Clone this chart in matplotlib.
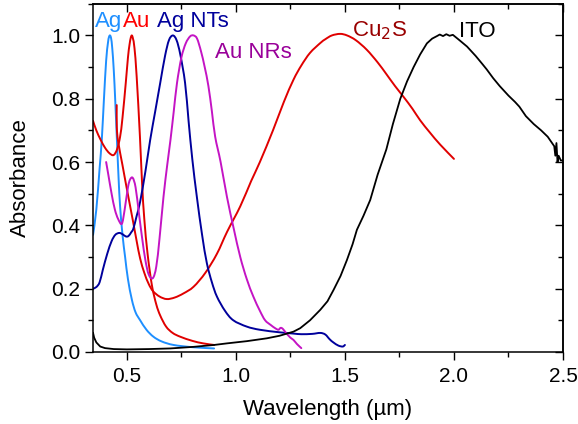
import numpy as np
import matplotlib
matplotlib.use("Agg")
import matplotlib.pyplot as plt
from matplotlib.path import Path
from matplotlib.patches import PathPatch
from matplotlib.ticker import MultipleLocator, FormatStrFormatter

plt.rcParams['font.family'] = ['Liberation Sans', 'DejaVu Sans']

# Extinction spectra (wavelength in µm, normalised absorbance)
ag_wl = [0.345, 0.36, 0.375, 0.385, 0.395, 0.405, 0.413, 0.418, 0.423, 0.428, 0.433,
         0.44, 0.447, 0.455, 0.462, 0.469, 0.48, 0.492, 0.505, 0.523, 0.54, 0.561,
         0.59, 0.622, 0.66, 0.714, 0.80, 0.90]
ag_abs = [0.37, 0.45, 0.58, 0.67, 0.80, 0.92, 0.975, 0.995, 1.0, 0.99, 0.96,
          0.89, 0.79, 0.66, 0.55, 0.46, 0.37, 0.30, 0.23, 0.165, 0.125, 0.10,
          0.07, 0.048, 0.033, 0.022, 0.015, 0.011]

au_wl = [0.345, 0.36, 0.38, 0.40, 0.42, 0.439, 0.455, 0.469, 0.48, 0.495, 0.505,
         0.512, 0.518, 0.523, 0.528, 0.535, 0.545, 0.56, 0.57, 0.58, 0.595, 0.615,
         0.635, 0.653, 0.68, 0.71, 0.745, 0.80, 0.85, 0.90]
au_abs = [0.73, 0.70, 0.67, 0.645, 0.628, 0.622, 0.64, 0.68, 0.74, 0.85, 0.93,
          0.97, 0.993, 1.0, 0.99, 0.96, 0.87, 0.68, 0.53, 0.42, 0.31, 0.21,
          0.15, 0.115, 0.08, 0.06, 0.048, 0.035, 0.027, 0.022]

agnt_wl = [0.345, 0.36, 0.375, 0.39, 0.41, 0.43, 0.447, 0.465, 0.48, 0.495, 0.507,
           0.52, 0.53, 0.545, 0.561, 0.585, 0.607, 0.63, 0.653, 0.675, 0.693, 0.711,
           0.728, 0.745, 0.767, 0.783, 0.80, 0.821, 0.845, 0.867, 0.89, 0.913,
           0.95, 0.988, 1.05, 1.11, 1.20, 1.264, 1.30, 1.35, 1.387, 1.41, 1.43,
           1.447, 1.47, 1.49, 1.50]
agnt_abs = [0.20, 0.205, 0.22, 0.26, 0.31, 0.35, 0.37, 0.376, 0.372, 0.365, 0.366,
            0.378, 0.39, 0.43, 0.475, 0.57, 0.67, 0.76, 0.85, 0.935, 0.985, 1.0,
            0.985, 0.94, 0.85, 0.73, 0.61, 0.49, 0.37, 0.28, 0.22, 0.175,
            0.13, 0.10, 0.08, 0.07, 0.062, 0.058, 0.056, 0.057, 0.06, 0.055, 0.04,
            0.03, 0.02, 0.017, 0.022]

aunr_wl = [0.405, 0.415, 0.43, 0.445, 0.46, 0.477, 0.49, 0.505, 0.515, 0.527, 0.54,
           0.555, 0.57, 0.585, 0.60, 0.619, 0.635, 0.65, 0.668, 0.685, 0.70, 0.715,
           0.73, 0.75, 0.77, 0.79, 0.806, 0.822, 0.84, 0.857, 0.874, 0.89, 0.905,
           0.93, 0.959, 0.99, 1.02, 1.05, 1.08, 1.11, 1.134, 1.16, 1.18, 1.195,
           1.205, 1.215, 1.23, 1.25, 1.264, 1.28, 1.30]
aunr_abs = [0.60, 0.56, 0.50, 0.45, 0.42, 0.405, 0.45, 0.52, 0.545, 0.55, 0.52,
            0.44, 0.36, 0.29, 0.245, 0.233, 0.27, 0.36, 0.49, 0.59, 0.67, 0.76,
            0.85, 0.93, 0.975, 0.997, 1.0, 0.99, 0.95, 0.90, 0.84, 0.76, 0.68,
            0.60, 0.49, 0.39, 0.30, 0.23, 0.175, 0.13, 0.10, 0.085, 0.075, 0.07,
            0.076, 0.073, 0.06, 0.045, 0.038, 0.025, 0.012]

cu2s_wl = [0.4535, 0.454, 0.46, 0.48, 0.50, 0.529, 0.545, 0.561, 0.58, 0.60, 0.62,
           0.65, 0.683, 0.72, 0.76, 0.806, 0.86, 0.913, 0.96, 1.02, 1.07, 1.11,
           1.17, 1.22, 1.264, 1.30, 1.34, 1.387, 1.41, 1.44, 1.478, 1.51, 1.55,
           1.60, 1.65, 1.69, 1.73, 1.77, 1.81, 1.845, 1.89, 1.937, 2.0]
cu2s_abs = [0.78, 0.71, 0.665, 0.59, 0.515, 0.41, 0.35, 0.295, 0.25, 0.215, 0.192,
            0.175, 0.167, 0.172, 0.185, 0.206, 0.25, 0.31, 0.38, 0.46, 0.54, 0.60,
            0.70, 0.79, 0.86, 0.905, 0.945, 0.976, 0.988, 1.0, 1.005, 1.0, 0.985,
            0.955, 0.915, 0.878, 0.84, 0.805, 0.768, 0.732, 0.693, 0.655, 0.61]

ito_wl = [0.345, 0.35, 0.36, 0.378, 0.40, 0.44, 0.50, 0.60, 0.70, 0.806, 0.90,
          0.959, 1.05, 1.142, 1.20, 1.264, 1.295, 1.34, 1.387, 1.42, 1.448, 1.48,
          1.509, 1.535, 1.555, 1.585, 1.616, 1.65, 1.69, 1.72, 1.754, 1.785, 1.815,
          1.845, 1.876, 1.90, 1.922, 1.935, 1.95, 1.965, 1.98, 1.995, 2.02,
          2.06, 2.10, 2.13, 2.15, 2.18, 2.21, 2.25, 2.28, 2.30, 2.33, 2.366, 2.40,
          2.43, 2.46, 2.465, 2.47, 2.475, 2.48, 2.49, 2.50]
ito_abs = [0.06, 0.045, 0.03, 0.017, 0.012, 0.009, 0.008, 0.009, 0.011, 0.016, 0.022,
           0.027, 0.034, 0.043, 0.051, 0.064, 0.075, 0.10, 0.133, 0.16, 0.196, 0.24,
           0.29, 0.34, 0.386, 0.43, 0.48, 0.56, 0.64, 0.72, 0.80, 0.855, 0.90,
           0.94, 0.975, 0.99, 0.998, 1.003, 0.998, 1.004, 0.999, 1.002, 0.988,
           0.965, 0.935, 0.91, 0.893, 0.865, 0.84, 0.81, 0.79, 0.775, 0.745, 0.72, 0.70,
           0.68, 0.65, 0.62, 0.66, 0.60, 0.62, 0.605, 0.605]

series = [
    (ag_wl, ag_abs, '#1E8FFF', True),
    (au_wl, au_abs, '#E00000', True),
    (cu2s_wl, cu2s_abs, '#E00000', True),
    (agnt_wl, agnt_abs, '#00009C', True),
    (aunr_wl, aunr_abs, '#C414C4', True),
    (ito_wl, ito_abs, '#000000', False),
]

labels = [
    ('Ag', 0.355, 1.027, '#1E8FFF'),
    ('Au', 0.484, 1.027, '#FF0000'),
    ('Ag NTs', 0.640, 1.027, '#00009C'),
    ('Au NRs', 0.905, 0.928, '#990099'),
    ('Cu$_2$S', 1.532, 0.998, '#990000'),
    ('ITO', 2.021, 0.995, '#000000'),
]


def smooth_path(x, y):
    """Cubic Bezier path through every (x, y) sample (Catmull-Rom tangents)."""
    p = np.column_stack([x, y]).astype(float)
    n = len(p)
    verts = [p[0]]
    codes = [Path.MOVETO]
    for i in range(n - 1):
        p0 = p[i - 1] if i > 0 else p[i]
        p1, p2 = p[i], p[i + 1]
        p3 = p[i + 2] if i + 2 < n else p[i + 1]
        c1 = p1 + (p2 - p0) / 6.0
        c2 = p2 - (p3 - p1) / 6.0
        verts += [c1, c2, p2]
        codes += [Path.CURVE4] * 3
    return Path(verts, codes)


fig = plt.figure(figsize=(5.78, 4.24), dpi=100)
ax = fig.add_axes([0.161, 0.170, 0.813, 0.821])

for wl, ab, col, smooth in series:
    if smooth:
        ax.add_patch(PathPatch(smooth_path(wl, ab), facecolor='none', edgecolor=col,
                               lw=1.4, joinstyle='round', capstyle='round'))
    else:
        ax.plot(wl, ab, color=col, lw=1.3, solid_joinstyle='round')

for txt, x, y, col in labels:
    ax.text(x, y, txt, color=col, fontsize=16, va='baseline', ha='left')

ax.set_xlim(0.345, 2.5)
ax.set_ylim(0.0, 1.1)
ax.xaxis.set_major_locator(MultipleLocator(0.5))
ax.xaxis.set_minor_locator(MultipleLocator(0.25))
ax.yaxis.set_major_locator(MultipleLocator(0.2))
ax.yaxis.set_minor_locator(MultipleLocator(0.1))
ax.xaxis.set_major_formatter(FormatStrFormatter('%.1f'))
ax.yaxis.set_major_formatter(FormatStrFormatter('%.1f'))

ax.tick_params(which='major', direction='out', length=6, width=1.0, labelsize=15, pad=3)
ax.tick_params(axis='x', which='major', pad=5)
ax.tick_params(which='minor', direction='out', length=3.6, width=1.0)
for sp in ax.spines.values():
    sp.set_linewidth(1.1)

# mirrored inward ticks on the top and right edges
top = ax.secondary_xaxis('top')
top.xaxis.set_major_locator(MultipleLocator(0.5))
top.xaxis.set_minor_locator(MultipleLocator(0.25))
top.tick_params(which='major', direction='in', length=6, width=1.0, labeltop=False)
top.tick_params(which='minor', direction='in', length=3.6, width=1.0)
top.spines['top'].set_linewidth(1.1)
right = ax.secondary_yaxis('right')
right.yaxis.set_major_locator(MultipleLocator(0.2))
right.yaxis.set_minor_locator(MultipleLocator(0.1))
right.tick_params(which='major', direction='in', length=6, width=1.0, labelright=False)
right.tick_params(which='minor', direction='in', length=3.6, width=1.0)
right.spines['right'].set_linewidth(1.1)

ax.set_xlabel('Wavelength (µm)', fontsize=16, labelpad=9)
ax.set_ylabel('Absorbance', fontsize=16, labelpad=15)

fig.savefig('out.png', dpi=100)
